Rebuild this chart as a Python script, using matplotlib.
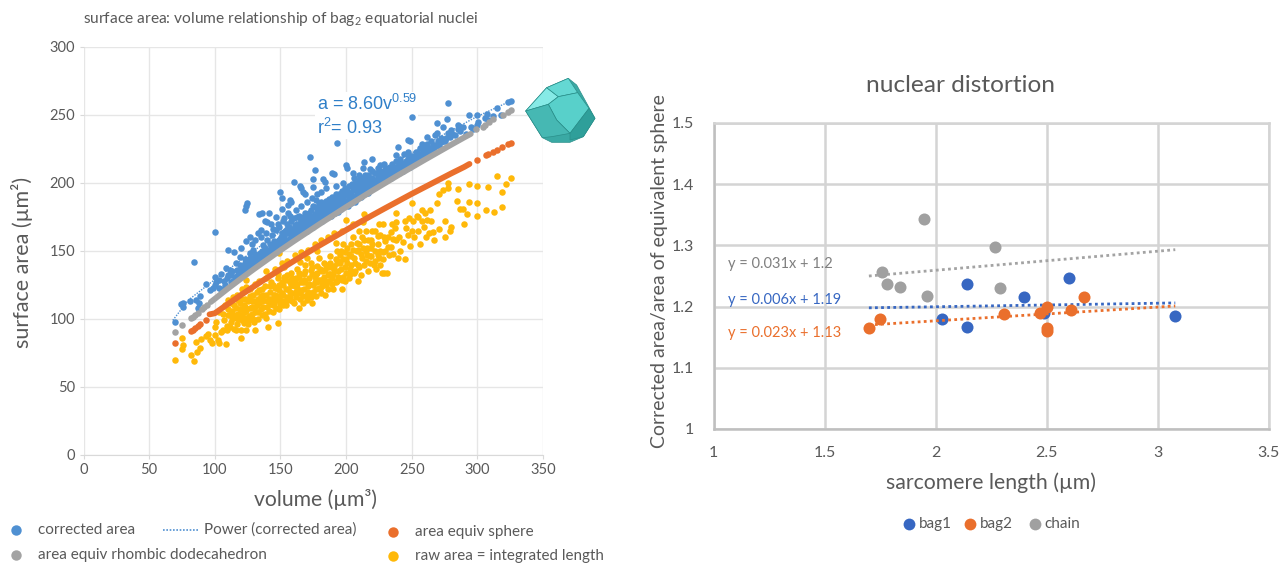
import matplotlib
matplotlib.use('Agg')
import matplotlib.pyplot as plt
from matplotlib.lines import Line2D
from matplotlib.patches import Polygon

W, H = 1288, 566
plt.rcParams['font.family'] = ['Lato', 'DejaVu Sans']
plt.rcParams['mathtext.fontset'] = 'custom'
plt.rcParams['mathtext.rm'] = 'Lato'

TEXT = '#595959'
BLUE = '#4f90d2'
ORANGE = '#ea6f2c'
GREY = '#a3a3a3'
GOLD = '#ffb909'
BLUE2 = '#3767c2'

# left chart: (volume, area)
corrected_area = [
    (69.6,97.5),(74.5,111),(75.5,109),(76,112),(81.5,113),(83.8,142),(86,114),(88,112),(89,117),(87,108),
    (93.2,126),(96.2,121),(98.8,122.6),(100,125),(100,131),(99.8,164),(105,133),(103.3,122.6),(101.3,127.5),(103,129),
    (110,151),(115,149.5),(119.6,152),(123.6,157.6),(126.7,160),(133,163),(135,165.5),(140,171.6),(108.9,137.3),(111.5,136),
    (110.2,132.4),(112.7,132.4),(116.5,141),(119,145.8),(115.3,131),(120.3,136),(122.9,141),(126.7,148.3),(129.2,150.8),(125.4,143.4),
    (130.5,143.4),(134.3,148.3),(136.8,154.4),(139.4,158),(143.2,161.8),(147,165.5),(150.8,160.6),(144.4,153.2),(139.4,148.3),(134.3,142.2),
    (129.2,138.5),(125.4,136),(123,180),(124,183),(124.5,185),(134,177),(136,178),(138,172),(141,178),(143,170),
    (147,175),(149,168),(151,181),(152,172),(156,178),(158,186),(160,201),(165,198),(166,196),(167,193.5),
    (168.5,192),(157,187.4),(155.8,183.7),(149.5,193.5),(151.5,189),(172.8,219),(175,202.6),(175,197),(176,209.5),(177.4,187.4),
    (181,193.5),(182.5,203),(183.7,200.4),(189,207),(191,206.5),(193,229.5),(200,213),(200.5,211),(205,207),(213,211),
    (214,215.6),(220,217.5),(225.6,213),(233,210.7),(238,220.5),(239.5,226.6),(247,231.5),(247,223),(250,248.7),(249,231),
    (142,147),(143,152),(145,150),(146,156),(147,149),(148,153),(149,158),(150,155),(151,163),(152,156),
    (153,160),(154,157),(155,166),(155,170),(156,158),(157,163),(158,160),(158,172),(159,166),(160,160),
    (161,169),(162,163),(163,175),(164,164),(165,168),(166,172),(167,165),(168,170),(169,178),(170,167),
    (171,174),(172,170),(173,180),(174,170),(175,176),(176,172),(177,182),(178,174),(179,179),(180,174),
    (181,186),(182,178),(183,176),(184,183),(185,178),(186,176),(187,188),(188,181),(189,178),(190,184),
    (191,180),(192,192),(193,183),(194,181),(195,189),(196,184),(197,194),(198,186),(199,184),(200,191),
    (201,187),(202,198),(203,189),(204,187),(205,195),(206,190),(207,200),(208,192),(209,191),(210,198),
    (211,194),(212,204),(213,196),(214,194),(215,201),(216,197),(217,206),(218,199),(219,197),(220,204),
    (153.5,165),(156.5,168),(159.5,161),(160.5,174),(162.5,170),(164.5,176),(165.5,163),(167.5,175),(168.5,166),(170.5,172),
    (171.5,178),(172.5,167),(173.5,175),(174.5,183),(175.5,169),(177.5,176),(178.5,171),(179.5,185),(180.5,177),(181.5,172),
    (182.5,182),(183.5,174),(184.5,187),(185.5,181),(186.5,175),(187.5,184),(188.5,176),(189.5,190),(190.5,182),(191.5,178),
    (192.5,187),(193.5,179),(194.5,192),(195.5,185),(196.5,181),(197.5,190),(198.5,183),(199.5,196),(200.5,186),(201.5,183),
    (202.5,193),(203.5,185),(204.5,199),(205.5,188),(206.5,186),(207.5,196),(208.5,188),(209.5,202),(210.5,191),(211.5,190),
    (212.5,198),(213.5,192),(214.5,206),(215.5,194),(216.5,193),(217.5,202),(218.5,196),(219.5,209),(221,199),(222,207),
    (223,201),(224,211),(225,203),(226,200),(227,208),(228,203),(229,214),(230,206),(231,203),(232,211),
    (233,206),(234,204),(235,214),(236,209),(237,206),(238,216),(239,209),(240,207),(241,218),(242,212),
    (243,209),(244,221),(245,213),(246,211),(247,218),(248,214),(249,212),(250,220),(251,216),(252,214),
    (253,223),(254,218),(255,216),(256,226),(257,220),(258,218),(259,225),(260,221),(261,220),(262,229),
    (263,223),(264,222),(265,231),(266,225),(267,224),(268,235),(269,236.5),(270,228),(271,227),(272,233),
    (274,241),(275,231),(277,247),(277.7,259),(279,234),(280,239),(281,236),(283,235),(285,243),(285.5,240),
    (287,238),(289,241),(291,236),(294,250),(295,241),(297,240),(300,250),(300.5,245),(300,243),(306,248),
    (307,251),(308,246),(312,249),(315,255),(318,250),(323,259.5),(325.6,260.5),(269,244),(262,234),(258,229),
    (105,122),(107,128),(108,125),(109,130),(112,127),(113,135),(114,128),(116,131),(117,136),(118,133),
    (119,140),(120,133),(121,138),(122,135),(123,144),(124,137),(125,140),(126,138),(127,145),(128,141),
    (129,145),(130,140),(131,148),(132,142),(133,146),(135,144),(136,150),(137,146),(138,152),(140,147),
    (141,151),(142,155),(144,149),(145,157),(146,152),(148,157),(149,152),(150,159),(151,154),(152,160),
    (153,155),(154,163),(155,157),(156,163),(157,159),(158,165),(159,160),(160,166),(161,161),(162,167),
    (163,163),(164,170),(165,163),(166,167),(167,171),(168,166),(169,171),(170,165),(171,169),(172,176),
    (173,168),(174,173),(175,168),(176,177),(177,171),(178,179),(179,172),(180,181),(181,173),(182,183),
    (183,179),(184,177),(185,185),(186,180),(187,177),(188,187),(189,183),(190,180),(191,187),(192,183),
    (193,190),(194,185),(195,182),(196,192),(197,187),(198,184),(199,193),(200,185),(201,195),(202,190),
    (203,186),(204,193),(205,189),(206,197),(207,190),(208,199),(209,194),(210,192),(211,200),(212,194),
    (213,201),(214,197),(215,195),(216,204),(217,199),(218,197),(219,203),(220,200),(222,202),(224,205),
    (226,209),(228,206),(230,210),(232,207),(234,212),(236,207),(238,212),(240,214),(242,215),(244,215),
    (246,216),(248,219),(250,216),(252,219),(254,222),(256,220),(258,222),(260,224),(262,226),(264,226),
    (266,228),(268,228),(270,231),(272,230),(274,231),(276,233),(278,237),
    (128,155),(131,158),(135,160),(139,163),(144,166),(148,170),(153,174),(157,176),(162,180),(166,183),
    (170,186),(174,189),(178,192),(185,196),(192,198),(198,200),(206,204),(210,206),(218,210),
]
power_v = [68, 80, 100, 125, 150, 175, 200, 225, 250, 275, 300, 327]
power_a = [99, 114, 129, 147, 164, 179, 195, 209, 222, 236, 249, 261]
# the part of the two equivalent area series that overlaps into a solid band
rhombic_band_v = [97, 100, 105, 110, 120, 130, 140, 150, 160, 170, 180, 190, 200, 210, 220, 230, 240, 250, 260, 270, 280, 290, 295]
rhombic_band_a = [112.5, 114.8, 118.6, 122.4, 129.7, 136.8, 143.7, 150.5, 157.1, 163.5, 169.9, 176.1, 182.3, 188.3, 194.3, 200.1, 205.9, 211.5, 217.1, 222.6, 228.1, 233.5, 236.1]
rhombic_dots = [(69.6,90.5),(75.2,95.6),(82,100.6),(83.5,101.8),(85,103),(87,104.7),(90,107),(92,109),(94,110.2),
                (299,240),(304,241.5),(306,243),(309,245),(312,247),(319.5,250),(323,252),(326,253.5)]
sphere_band_v = [96, 100, 110, 120, 130, 140, 150, 160, 170, 180, 190, 200, 210, 220, 230, 240, 250, 260, 270, 280, 290, 294]
sphere_band_a = [103.4, 104.2, 111, 117.7, 124.1, 130.4, 136.5, 142.5, 148.4, 154.2, 159.8, 165.4, 170.9, 176.3, 181.6, 186.8, 192, 197, 202, 207, 211.8, 214]
sphere_dots = [(69.6,82),(82,91),(83.5,92),(85,93.5),(87,95),(89,96.3),(93,99),
               (300,217),(306.8,220.5),(308,221),(312,223),(315,224.5),(319,226.6),(323,228.5),(325.6,229.6)]
raw_area = [
    (69.6,70),(75,86.3),(75.5,81),(74.7,77.7),(81.8,73.8),(83.8,69.2),(86.6,75.5),(89,79),(85.6,83.4),(89.4,85),
    (93,87.8),(95,89),(96,84.6),(97.5,82),(100,88),(102.6,84.6),(103.3,82),(108.9,81.4),(101,98),(100,94),
    (105,90.7),(106,92),(109,92),(111.4,94),(114.5,93),(119.6,86.3),(124,92),(120,92),(110,114),(117.8,114),
    (124,138.5),(123.6,128.7),(124,123.3),(139.3,135),(149,148.3),(148.2,97.3),(140.6,94.4),(131,92),(136,103),(122,110),
    (107,99),(110,103),(112,98),(113,106),(115,101),(116,108),(117,96),(118,104),(119,112),(121,99),
    (122,105),(123,115),(125,96),(126,102),(127,108),(128,113),(129,118),(130,98),(131,105),(132,110),
    (133,115),(134,121),(135,107),(136,113),(137,118),(138,124),(139,101),(140,109),(141,115),(142,120),
    (143,127),(144,105),(145,112),(146,118),(147,123),(148,130),(149,107),(150,114),(151,119),(152,125),
    (153,131),(154,110),(155,116),(156,122),(157,127),(158,134),(159,113),(160,119),(161,124),(162,130),
    (163,137),(164,108),(165,115),(166,121),(167,127),(168,133),(169,140),(170,118),(171,124),(172,130),
    (173,136),(174,112),(175,120),(176,127),(177,133),(178,139),(179,145),(180,122),(181,129),(182,135),
    (183,141),(184,118),(185,125),(186,132),(187,138),(188,146),(189,126),(190,133),(191,139),(192,144),
    (193,128),(194,135),(195,141),(196,150),(197,122),(198,131),(199,138),(200,144),(200,173),(201,152),
    (202,130),(203,137),(204,146),(205,170),(206,134),(207,141),(208,156),(209,128),(210,138),(211,148),
    (212,160),(213,171),(214,177),(215,143),(216,152),(217,135),(218,146),(219,158),(220,165),(221,140),
    (222,150),(223,137),(224,155),(225,145),(226,162),(227,134),(228,149),(229,133.5),(230,157),(231,134),
    (232,153),(233,147),(234,164),(236,159),(237,167),(238,171.5),(238,178),(239.5,144.5),(241,150),(243,156.8),
    (245,144),(246,167),(247,161.7),(248,174),(249,154),(250,185),(251,172),(252,160),(254,176),(255,165),
    (256,155),(258,180),(259,168),(261,160),(262,173),(263,163),(265,172),(266,164),(267,158),(269,185.5),
    (270.6,191.6),(271,166),(274,195),(275,172),(275,160),(277.7,200),(278,196.5),(279,165),(280,168),(284.5,187),
    (285,195.5),(287,181),(289,181),(290,170),(292,177),(294,186),(294,199),(300,185),(300,198),(300,176),
    (306.5,180),(308,197),(312.5,178.4),(315,205),(319,182.5),(319,193.6),(322,199),(325.6,204),
    (108,110),(112,112),(114,116),(117,118),(121,122),(127,122),(131,126),(134,128),(139,130),(146,137),
    (151,141),(155,143),(161,147),(166,149),(171,151),(176,155),(181,158),(186,160),(191,163),(197,165),
    (103,105),(106,104),(109,95),(113,101),(116,92),(120,107),(124,101),(128,104),(133,100),(137,109),
    (142,111),(147,114),(152,110),(157,116),(162,120),(167,112),(172,118),(177,122),(182,127),(187,128),
    (144,125),(149,121),(154,129),(159,125),(164,131),(169,127),(174,133),(179,129),(184,136),(189,138),
    (194,143),(199,149),(204,155),(209,151),(214,158),(219,152),(224,147),(229,160),
    (148,133),(153,138),(158,129),(163,126),(168,122),(173,141),(178,127),(183,131),(188,133),(193,150),
    (110,107),(112,104),(115,110),(116,103),(118,100),(119,107),(120,115),(121,103),(122,97),(123,109),
    (124,106),(125,113),(126,99),(127,117),(128,109),(129,100),(130,113),(131,109),(132,120),(133,105),
    (134,112),(135,117),(136,122),(137,114),(138,104),(139,118),(140,113),(141,106),(142,124),(143,115),
    (144,110),(145,118),(146,123),(147,108),(148,117),(149,125),(150,111),(151,127),(152,118),(153,113),
    (154,122),(155,132),(156,114),(157,120),(158,125),(159,130),(160,112),(161,128),(162,116),(163,123),
    (164,134),(165,119),(166,127),(167,117),(168,129),(169,135),(170,114),(171,120),(172,126),(173,116),
    (174,138),(175,125),(176,131),(177,117),(178,134),(179,123),(180,137),(181,119),(182,124),(183,136),
    (184,128),(185,140),(186,122),(187,133),(188,141),(189,130),(190,122),(191,136),(192,127),(193,141),
    (194,131),(195,147),(196,137),(197,129),(198,144),(199,128),(200,134),(201,141),(202,148),(203,133),
    (204,140),(205,151),(206,145),(207,135),(208,150),(209,140),(210,155),(211,132),(212,145),(213,152),
    (214,140),(215,150),(216,147),(217,158),(218,141),(219,146),(220,155),(222,143),(224,161),(226,150),
    (228,144),(230,150),(232,160),(234,153),(236,148),(238,158),
    (235,170),(225,170),(215,165),(222,165),(228,170),(226,140),(240,160),(245,172),(250,165),(255,175),
    (260,178),(205,160),(198,155),(192,156),(210,165),(178,150),(170,145),(165,142),(258,172),(264,180),
]

# right chart
sl_bag1 = [2.03, 2.14, 2.14, 2.40, 2.49, 2.60, 3.08]
ratio_bag1 = [1.18, 1.237, 1.167, 1.215, 1.19, 1.246, 1.184]
sl_bag2 = [1.70, 1.75, 2.31, 2.47, 2.50, 2.50, 2.50, 2.61, 2.67]
ratio_bag2 = [1.165, 1.18, 1.188, 1.19, 1.2, 1.165, 1.16, 1.195, 1.215]
sl_chain = [1.76, 1.78, 1.84, 1.95, 1.96, 2.27, 2.29]
ratio_chain = [1.257, 1.237, 1.232, 1.343, 1.218, 1.298, 1.23]
trend_x = [1.70, 3.08]
trend_bag1 = [1.198, 1.206]
trend_bag2 = [1.17, 1.201]
trend_chain = [1.25, 1.293]
left_xticks = [0, 50, 100, 150, 200, 250, 300, 350]
left_yticks = [0, 50, 100, 150, 200, 250, 300]
right_xticks = [1, 1.5, 2, 2.5, 3, 3.5]
right_xlabels = ['1', '1.5', '2', '2.5', '3', '3.5']
right_yticks = [1, 1.1, 1.2, 1.3, 1.4, 1.5]
right_ylabels = ['1', '1.1', '1.2', '1.3', '1.4', '1.5']


def fx(x):
    return x / W


def fy(y):
    return 1 - y / H


def box(x0, y0, x1, y1):
    return [fx(x0), fy(y1), fx(x1) - fx(x0), fy(y0) - fy(y1)]


def ftext(x, y, s, **kw):
    kw.setdefault('color', TEXT)
    kw.setdefault('va', 'center')
    fig.text(fx(x), fy(y), s, **kw)


def fmark(x, y, color, size=7.5):
    fig.add_artist(Line2D([fx(x)], [fy(y)], marker='o', ms=size, color=color, mew=0, ls='none',
                          transform=fig.transFigure))


fig = plt.figure(figsize=(W / 100, H / 100), dpi=100)

# left chart
ax = fig.add_axes(box(83.5, 47, 543, 455))
ax.set_xlim(0, 350)
ax.set_ylim(0, 300)
ax.set_xticks(left_xticks)
ax.set_yticks(left_yticks)
ax.grid(color='#e6e6e6', lw=1)
ax.set_axisbelow(True)
for s in ax.spines.values():
    s.set_visible(False)
ax.spines['bottom'].set_visible(True)
ax.spines['bottom'].set_color('#d9d9d9')
ax.tick_params(length=3, color='#d9d9d9', labelcolor=TEXT, labelsize=10.5, pad=3)

ax.scatter([p[0] for p in raw_area], [p[1] for p in raw_area], s=22, color=GOLD, lw=0, zorder=3)
ax.plot(sphere_band_v, sphere_band_a, color=ORANGE, lw=4.2, solid_capstyle='round', zorder=4)
ax.scatter([p[0] for p in sphere_dots], [p[1] for p in sphere_dots], s=22, color=ORANGE, lw=0, zorder=4)
ax.scatter([p[0] for p in corrected_area], [p[1] for p in corrected_area], s=22, color=BLUE, lw=0, zorder=3)
ax.plot(rhombic_band_v, rhombic_band_a, color=GREY, lw=4.2, solid_capstyle='round', zorder=4)
ax.scatter([p[0] for p in rhombic_dots], [p[1] for p in rhombic_dots], s=22, color=GREY, lw=0, zorder=4)
ax.plot(power_v, power_a, color=BLUE, lw=1, ls=(0, (1, 1)), zorder=5)

# white behind the equation cuts the 250 grid line, it sits below the points
ax.text(177.5, 249.5, 'a = 8.60v$^{\\mathregular{0.59}}$\nr$^{\\mathregular{2}}$= 0.93', color='#2f7fc8', fontsize=13,
        family='Liberation Sans', va='center', linespacing=1.25, zorder=2,
        bbox=dict(fc='white', ec='none', pad=1))

ftext(83, 19, 'surface area: volume relationship of bag$_{\\mathregular{2}}$ equatorial nuclei', fontsize=11.2)
ftext(315, 500, 'volume (µm³)', fontsize=15.2, ha='center')
ftext(22, 262, 'surface area (µm²)', fontsize=15.5, ha='center', rotation=90)

# legend of the left chart
fmark(16, 530, BLUE)
ftext(38, 530, 'corrected area', fontsize=11)
fig.add_artist(Line2D([fx(163), fx(199)], [fy(530), fy(530)], color=BLUE, lw=1.2, ls=(0, (1, 1)),
                      transform=fig.transFigure))
ftext(204, 530, 'Power (corrected area)', fontsize=11)
fmark(393, 532, ORANGE)
ftext(415, 532, 'area equiv sphere', fontsize=11)
fmark(16, 555, GREY)
ftext(38, 555, 'area equiv rhombic dodecahedron', fontsize=11)
fmark(393, 556, GOLD)
ftext(415, 556, 'raw area = integrated length', fontsize=10.9)

# rhombic dodecahedron picture, vertices in crop pixels
faces = [
    ('#3aa9a4', [(160, 40), (95, 68), (32, 138), (82, 218), (110, 232), (165, 232), (205, 215), (240, 160), (185, 60)]),
    ('#86eae6', [(32, 138), (95, 68), (130, 95), (100, 118)]),
    ('#64d8d3', [(95, 68), (160, 40), (188, 83), (130, 95)]),
    ('#58d0ca', [(100, 118), (130, 95), (188, 83), (222, 130), (165, 205), (125, 165)]),
    ('#46b8b3', [(32, 138), (100, 118), (125, 165), (165, 205), (110, 215), (82, 218)]),
    ('#2f9f9a', [(222, 130), (240, 160), (205, 215), (165, 225), (165, 205)]),
]
for c, pts in faces:
    fig.add_artist(Polygon([(fx(515 + x / 3), fy(65 + y / 3)) for x, y in pts], closed=True, fc=c,
                           ec='#2a8f8a', lw=0.5, transform=fig.transFigure, zorder=10))

# right chart
ax2 = fig.add_axes(box(713.5, 123, 1268.5, 429))
ax2.set_xlim(1, 3.5)
ax2.set_ylim(1, 1.5)
ax2.set_xticks(right_xticks, right_xlabels)
ax2.set_yticks(right_yticks, right_ylabels)
ax2.grid(color='#d4d4d4', lw=1.8)
ax2.set_axisbelow(True)
for s in ax2.spines.values():
    s.set_color('#d4d4d4')
    s.set_linewidth(1.8)
ax2.spines['left'].set_color('#bfbfbf')
ax2.spines['bottom'].set_color('#bfbfbf')
ax2.tick_params(length=0, labelcolor=TEXT, labelsize=11.5, pad=12)
ax2.tick_params(axis='y', pad=14)

ax2.plot(trend_x, trend_chain, color=GREY, lw=2, ls=(0, (1, 1.2)), zorder=3)
ax2.plot(trend_x, trend_bag1, color=BLUE2, lw=2, ls=(0, (1, 1.2)), zorder=3)
ax2.plot(trend_x, trend_bag2, color=ORANGE, lw=2, ls=(0, (1, 1.2)), zorder=5)
ax2.scatter(sl_chain, ratio_chain, s=75, color='#a0a0a0', lw=0, zorder=4)
ax2.scatter(sl_bag1, ratio_bag1, s=75, color=BLUE2, lw=0, zorder=4)
ax2.scatter(sl_bag2, ratio_bag2, s=75, color=ORANGE, lw=0, zorder=4)

ftext(728, 264, 'y = 0.031x + 1.2', fontsize=10.5, color='#7f7f7f')
ftext(728, 300, 'y = 0.006x + 1.19', fontsize=10.5, color=BLUE2)
ftext(728, 333, 'y = 0.023x + 1.13', fontsize=10.5, color=ORANGE)

ftext(960, 85, 'nuclear distortion', fontsize=17.6, ha='center')
ftext(991, 483, 'sarcomere length (µm)', fontsize=15.3, ha='center')
ftext(659, 271, 'Corrected area/area of equivalent sphere', fontsize=14, ha='center', rotation=90)

fmark(909, 524, BLUE2, 8.5)
ftext(919, 524, 'bag1', fontsize=11)
fmark(970, 524, ORANGE, 8.5)
ftext(980, 524, 'bag2', fontsize=11)
fmark(1035, 524, '#a0a0a0', 8.5)
ftext(1044, 524, 'chain', fontsize=11)

fig.savefig('out.png', dpi=100)
